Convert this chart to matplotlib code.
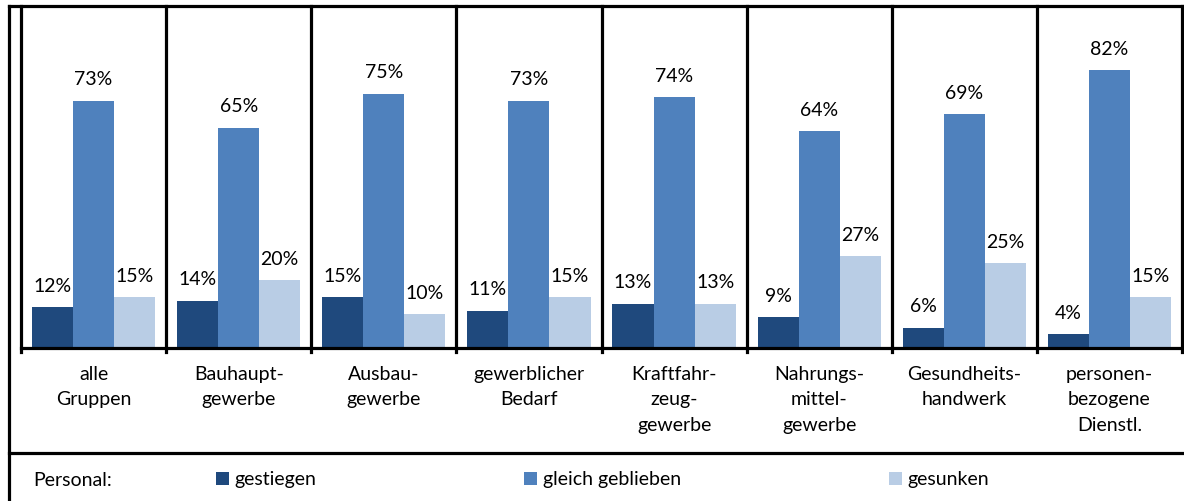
import matplotlib
matplotlib.use("Agg")
import matplotlib.pyplot as plt
from matplotlib.lines import Line2D
from matplotlib.patches import Patch
import numpy as np

plt.rcParams["font.family"] = ["Lato", "DejaVu Sans"]

# data
groups = ["alle\nGruppen", "Bauhaupt-\ngewerbe", "Ausbau-\ngewerbe", "gewerblicher\nBedarf",
          "Kraftfahr-\nzeug-\ngewerbe", "Nahrungs-\nmittel-\ngewerbe", "Gesundheits-\nhandwerk",
          "personen-\nbezogene\nDienstl."]
gestiegen = [12, 14, 15, 11, 13, 9, 6, 4]
gleich_geblieben = [73, 65, 75, 73, 74, 64, 69, 82]
gesunken = [15, 20, 10, 15, 13, 27, 25, 15]

series_names = ["gestiegen", "gleich geblieben", "gesunken"]
colors = ["#1F497D", "#4F81BD", "#B9CDE5"]

fs = 14
W, H = 1184, 501
fig = plt.figure(figsize=(W / 100, H / 100), dpi=100)
ax = fig.add_axes([21 / W, 1 - 348 / H, (1182 - 21) / W, (348 - 9) / H])

x = np.arange(len(groups))
bw = 0.283
for i, (vals, col) in enumerate(zip([gestiegen, gleich_geblieben, gesunken], colors)):
    pos = x + (i - 1) * bw
    ax.bar(pos, vals, width=bw, color=col, edgecolor="none", zorder=2)
    for px, v in zip(pos, vals):
        ax.annotate(f"{v}%", (px, v), xytext=(0, 9), textcoords="offset points",
                    ha="center", va="bottom", fontsize=fs, color="#000000")

ax.set_xlim(-0.5, len(groups) - 0.5)
ax.set_ylim(0, 100)
ax.set_yticks([])
ax.set_xticks(x)
ax.set_xticklabels(groups, fontsize=fs, linespacing=1.6)
ax.tick_params(axis="x", length=0, pad=13)
for s in ax.spines.values():
    s.set_visible(False)

# group separators and bottom line
lw = 2.3
for b in np.arange(-0.5, len(groups), 1.0):
    ax.axvline(b, ymin=-0.012, ymax=1.01, color="black", lw=lw, clip_on=False, zorder=3)
ax.axhline(0, color="black", lw=lw, zorder=3, clip_on=False)

# outer frame lines
fig.add_artist(Line2D([9 / W, 1], [1 - 6 / H] * 2, color="black", lw=lw))
fig.add_artist(Line2D([9 / W, 9 / W], [0, 1 - 6 / H], color="black", lw=lw))
fig.add_artist(Line2D([9 / W, 1], [1 - 453 / H] * 2, color="black", lw=lw))

# legend row
fig.text(33 / W, 1 - 480 / H, "Personal:", fontsize=fs, va="center", ha="left")
handles = [Patch(facecolor=c, edgecolor="none") for c in colors]
fig.legend(handles, series_names, loc="center left", bbox_to_anchor=(216 / W, 1 - 480 / H),
           ncol=3, frameon=False, fontsize=fs, handlelength=0.65, handleheight=0.65,
           handletextpad=0.3, columnspacing=10.7, borderpad=0, borderaxespad=0)

fig.savefig("out.png", dpi=100)
